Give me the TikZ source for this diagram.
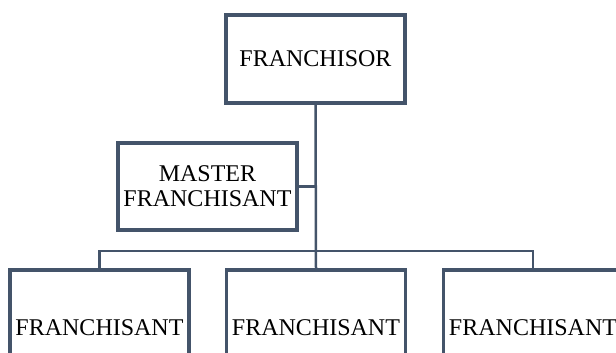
\documentclass[tikz,border=0pt]{standalone}
\usepackage{fontspec}
\setmainfont{Liberation Serif}
\definecolor{boxline}{HTML}{44546A}
\tikzset{
  orgbox/.style={draw=boxline, line width=3.5pt, fill=white, inner sep=0pt,
    minimum width=179pt, minimum height=88pt, align=center,
    font=\fontsize{24}{25}\selectfont},
  lowbox/.style={orgbox, minimum height=116pt},
  link/.style={draw=boxline, line width=2.5pt}
}
\begin{document}
\begin{tikzpicture}[x=1pt,y=-1pt]
\useasboundingbox (0,0) rectangle (616,353);
\clip (0,0) rectangle (616,353);
\coordinate (hub) at (316,251);
\node[orgbox] (top) at (315.5,59) {FRANCHISOR};
\node[orgbox, minimum height=87pt] (master) at (207.5,186.5) {MASTER\\FRANCHISANT};
\node[lowbox] (b1) at (99.5,328) {FRANCHISANT};
\node[lowbox] (b2) at (316,328) {FRANCHISANT};
\node[lowbox] (b3) at (533,328) {FRANCHISANT};
\draw[link] (top.south) -- (b2.north);
\draw[link] (master.east) -- (top.south |- master.east);
\draw[link] (b1.north) |- (hub) -| (b3.north);
\node[orgbox] at (top) {FRANCHISOR};
\node[orgbox, minimum height=87pt] at (master) {MASTER\\FRANCHISANT};
\node[lowbox] at (b1) {FRANCHISANT};
\node[lowbox] at (b2) {FRANCHISANT};
\node[lowbox] at (b3) {FRANCHISANT};
\end{tikzpicture}
\end{document}
